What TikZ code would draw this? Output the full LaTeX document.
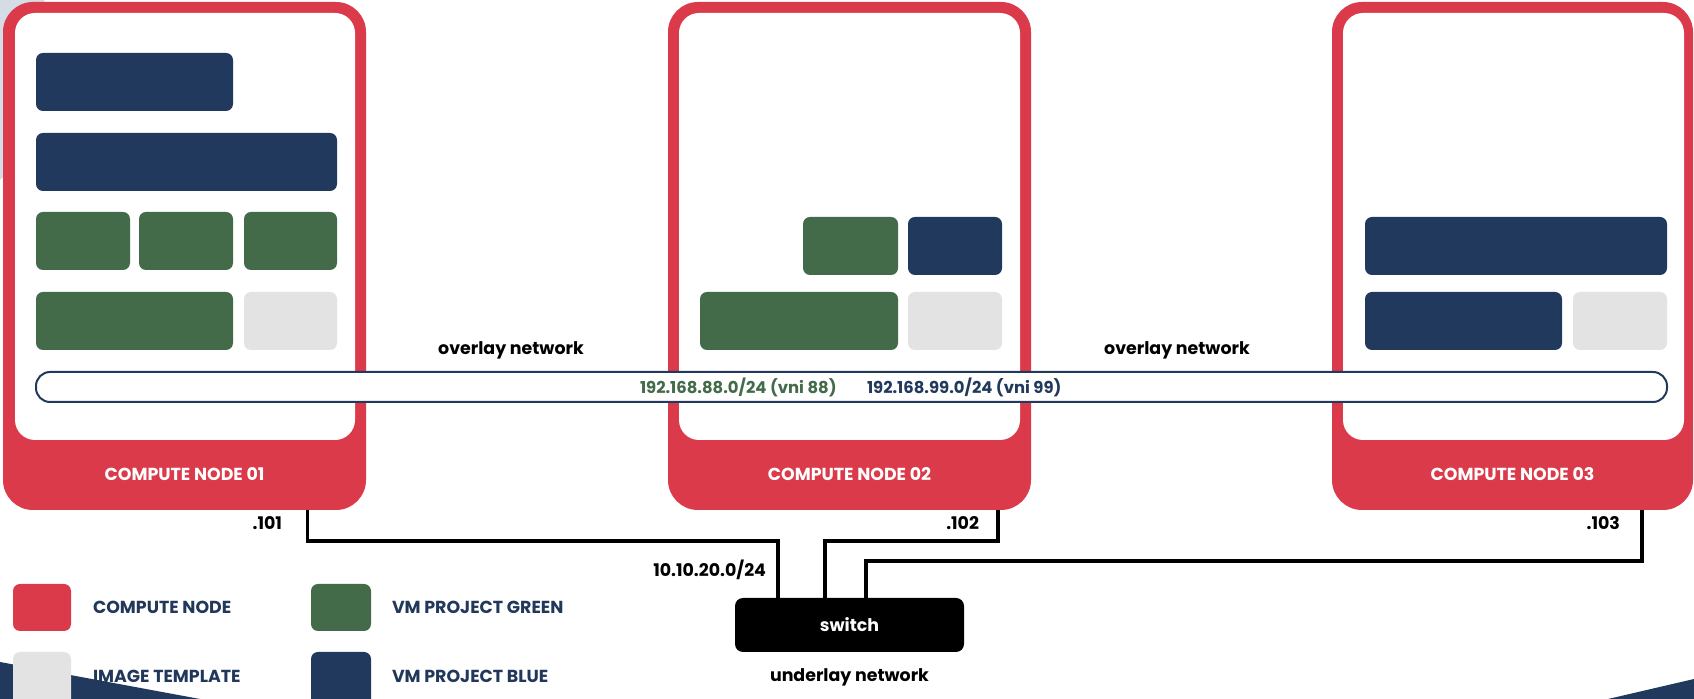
\documentclass[tikz,border=0pt]{standalone}
\usepackage{fontspec}
\setmainfont{Poppins}
\usetikzlibrary{calc}

\definecolor{nodered}{HTML}{DB3A4B}
\definecolor{vmblue}{HTML}{21395D}
\definecolor{vmgreen}{HTML}{436B4A}
\definecolor{tplgrey}{HTML}{E3E3E3}
\definecolor{haze}{HTML}{D4DDE6}
\definecolor{ink}{HTML}{22385A}

% \boxnode{name}{style}{x1}{y1}{x2}{y2}: a box node spanning two corners (px units)
\newcommand\boxnode[6]{%
  \node[#2, minimum width={(#5-#3)*0.5pt}, minimum height={(#6-#4)*0.5pt}]
    (#1) at ({(#3+#5)/2},{(#4+#6)/2}) {};}

\newcommand\lblfont{\fontsize{8.7}{10}\selectfont\bfseries}
\newcommand\cidrfont{\fontsize{8.2}{10}\selectfont\bfseries}

\begin{document}
\begin{tikzpicture}[x=0.5pt,y=-0.5pt,
  every node/.style={inner sep=0pt, outer sep=0pt},
  hostbox/.style={fill=nodered, rounded corners=15pt},
  hostcore/.style={fill=white, rounded corners=10pt},
  greenvm/.style={fill=vmgreen, rounded corners=3.5pt},
  bluevm/.style={fill=vmblue, rounded corners=3.5pt},
  tplvm/.style={fill=tplgrey, rounded corners=3.5pt},
  overlaybar/.style={draw=vmblue, line width=1pt, fill=white, rounded corners=7pt},
  switchbox/.style={fill=black, rounded corners=4pt},
  keybox/.style={rounded corners=3.5pt},
  hostlabel/.style={text=white, font=\lblfont},
  netlabel/.style={text=black, font=\lblfont},
  keylabel/.style={text=ink, font=\lblfont, anchor=west},
  wire/.style={line width=1.75pt, draw=black},
]
\useasboundingbox (0,0) rectangle (1694,699);
\clip (0,0) rectangle (1694,699);
\fill[white] (0,0) rectangle (1694,699);

% decorative shapes in the corners
\fill[haze] (-100,60) circle[radius=156];
\fill[vmblue] (0,662) -- (200,699) -- (0,699) -- cycle;
\fill[vmblue] (1694,679) -- (1694,699) -- (1608,699) -- cycle;

% compute nodes
\boxnode{cn1}{hostbox}{3}{2}{366}{510}
\boxnode{cn2}{hostbox}{668}{2}{1031}{510}
\boxnode{cn3}{hostbox}{1332}{2}{1693}{510}
\boxnode{core1}{hostcore}{15}{13}{355}{440}
\boxnode{core2}{hostcore}{679}{13}{1020}{440}
\boxnode{core3}{hostcore}{1343}{13}{1684}{440}

\node[hostlabel] (lbl1) at (184.5,474) {COMPUTE NODE 01};
\node[hostlabel] (lbl2) at (849.5,474) {COMPUTE NODE 02};
\node[hostlabel] (lbl3) at (1512.5,474) {COMPUTE NODE 03};

% virtual machines and templates on node 01
\boxnode{n1b1}{bluevm}{36}{53}{233}{111}
\boxnode{n1b2}{bluevm}{36}{133}{337}{191}
\boxnode{n1g1}{greenvm}{36}{212}{130}{270}
\boxnode{n1g2}{greenvm}{139}{212}{233}{270}
\boxnode{n1g3}{greenvm}{244}{212}{337}{270}
\boxnode{n1g4}{greenvm}{36}{292}{233}{350}
\boxnode{n1t}{tplvm}{244}{292}{337}{350}

% node 02
\boxnode{n2g1}{greenvm}{803}{217}{898}{275}
\boxnode{n2b1}{bluevm}{908}{217}{1002}{275}
\boxnode{n2g2}{greenvm}{700}{292}{898}{350}
\boxnode{n2t}{tplvm}{908}{292}{1002}{350}

% node 03
\boxnode{n3b1}{bluevm}{1365}{217}{1667}{275}
\boxnode{n3b2}{bluevm}{1365}{292}{1562}{350}
\boxnode{n3t}{tplvm}{1573}{292}{1667}{350}

% overlay network
\boxnode{ovl}{overlaybar}{36}{372}{1667}{402}
\node[netlabel] (ovlA) at (511,350) {overlay network};
\node[netlabel] (ovlB) at (1177,350) {overlay network};
\node[font=\cidrfont, text=vmgreen, anchor=west] (vni88) at (640,387) {192.168.88.0/24 (vni 88)};
\node[font=\cidrfont, text=vmblue, anchor=west] (vni99) at (867,387) {192.168.99.0/24 (vni 99)};

% underlay network
\boxnode{sw}{switchbox}{735}{598}{964}{652}
\node[hostlabel] (swlbl) at (sw.center) {switch};
\node[netlabel] (udl) at (849.5,677) {underlay network};
\node[netlabel, anchor=east] (cidr) at (766,570) {10.10.20.0/24};

\draw[wire] ([xshift=61.5pt]cn1.south) -- ++(0,31) -| ([xshift=-35.75pt]sw.north);
\draw[wire] ([xshift=74.25pt]cn2.south) -- ++(0,31) -| ([xshift=-12.25pt]sw.north);
\draw[wire] ([xshift=64.75pt]cn3.south) -- ++(0,51) -| ([xshift=8.25pt]sw.north);

\node[netlabel, anchor=east] (ip1) at (282,523) {.101};
\node[netlabel, anchor=east] (ip2) at (979,523) {.102};
\node[netlabel, anchor=east] (ip3) at (1620,523) {.103};

% legend
\boxnode{k1}{keybox, fill=nodered}{13}{584}{71}{631}
\boxnode{k2}{keybox, fill=tplgrey}{13}{652}{71}{706}
\boxnode{k3}{keybox, fill=vmgreen}{311}{584}{371}{631}
\boxnode{k4}{keybox, fill=vmblue}{311}{652}{371}{706}
\node[keylabel] (k1t) at (93,607) {COMPUTE NODE};
\node[keylabel] (k2t) at (93,676) {IMAGE TEMPLATE};
\node[keylabel] (k3t) at (392,607) {VM PROJECT GREEN};
\node[keylabel] (k4t) at (392,676) {VM PROJECT BLUE};
\end{tikzpicture}
\end{document}
